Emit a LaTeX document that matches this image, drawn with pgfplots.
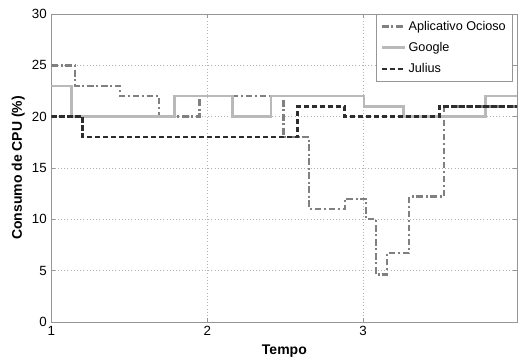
\documentclass[border=0pt]{standalone}
\usepackage{pgfplots}
\pgfplotsset{compat=1.18}
\usepackage{fontspec}
\setmainfont{Liberation Sans}
\definecolor{cAp}{RGB}{128,128,128}
\definecolor{cGo}{RGB}{185,185,185}
\definecolor{cJu}{RGB}{45,45,45}
\definecolor{cAx}{RGB}{150,150,150}
\begin{document}
\begin{tikzpicture}
\begin{axis}[
  scale only axis,
  width=349.5pt, height=231pt,
  xmin=1, xmax=3.99, ymin=0, ymax=30,
  xtick={1,2,3}, ytick={0,5,...,30},
  grid=major,
  major grid style={dotted, color=gray!60},
  axis line style={cAx},
  tick style={cAx},
  tick align=inside,
  major tick length=3pt,
  every tick label/.append style={font=\fontsize{10}{11}\selectfont},
  /pgf/number format/assume math mode=true,
  xlabel={\textbf{Tempo}},
  ylabel={\textbf{Consumo de CPU (\%)}},
  label style={font=\fontsize{10.5}{12}\selectfont},
  xlabel style={at={(axis description cs:0.5,-0.094)}, anchor=center},
  ylabel style={at={(axis description cs:-0.071,0.5)}, anchor=center, rotate=0},
  legend style={at={(0.99,1)}, anchor=north east, font=\fontsize{9.5}{11.5}\selectfont, draw=cAx, inner sep=3pt, row sep=3.5pt},
  legend cell align=left,
]
\addplot[const plot, cAp, line width=1.8pt, dash pattern=on 5pt off 2pt on 1.5pt off 2pt] coordinates {
(1,25) (1.15,23) (1.44,22) (1.69,20) (1.95,22) (2.49,18) (2.654,11) (2.885,12)
(3.019,10) (3.083,4.6) (3.154,6.7) (3.295,12.2) (3.519,21) (3.99,21)};
\addlegendentry{Aplicativo Ocioso}
\addplot[const plot, cGo, line width=2pt] coordinates {
(1,23) (1.13,20) (1.79,22) (2.16,20) (2.41,22) (3.005,21) (3.26,20) (3.785,22) (3.99,22)};
\addlegendentry{Google}
\addplot[const plot, cJu, line width=1.8pt, dash pattern=on 4pt off 2pt] coordinates {
(1,20) (1.2,18) (2.58,21) (2.88,20) (3.49,21) (3.99,21)};
\addlegendentry{Julius}
\end{axis}
\pgfresetboundingbox
\path ([shift={(-38.6pt,-27pt)}]current axis.south west) rectangle ([shift={(0.5pt,10.5pt)}]current axis.north east);
\end{tikzpicture}
\end{document}
